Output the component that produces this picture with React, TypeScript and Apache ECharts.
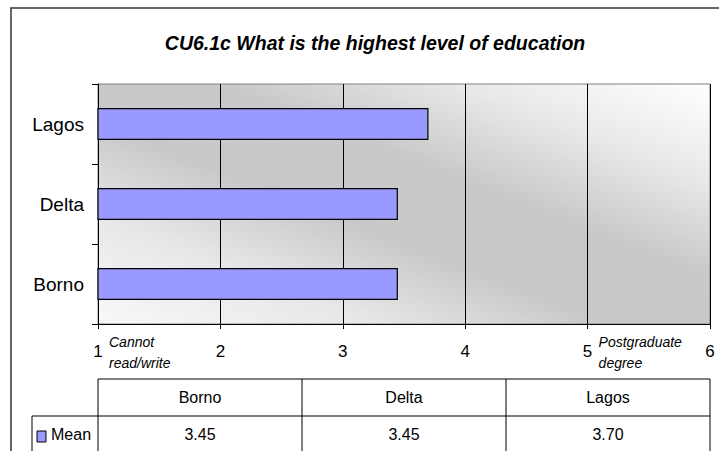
import React, { useEffect, useRef } from "react";
import * as echarts from "echarts";

const categories = ["Borno", "Delta", "Lagos"];
const meanValues = [3.45, 3.45, 3.7];
const seriesName = "Mean";
const axisMin = 1;
const axisMax = 6;
const axisStep = 1;
const scaleNotes = [
  { value: 1, text: "Cannot\nread/write" },
  { value: 5, text: "Postgraduate\ndegree" },
];
const titleText = "CU6.1c What is the highest level of education";

const FONT = '"Liberation Sans", Arial, sans-serif';

export default function App() {
  const ref = useRef<HTMLDivElement>(null);
  useEffect(() => {
    if (!ref.current) return;
    const chart = echarts.init(ref.current, null, { renderer: "svg" });
    const H = 451;
    const gridLeft = 98,
      gridRight = 9,
      gridTop = 84,
      gridBottom = 127;
    chart.setOption({
      animation: false,
      backgroundColor: "#ffffff",
      title: {
        text: titleText,
        left: 370,
        textAlign: "center",
        top: 28,
        textStyle: {
          fontFamily: FONT,
          fontSize: 19.5,
          fontWeight: "bold",
          fontStyle: "italic",
          color: "#000",
        },
      },
      grid: {
        left: gridLeft,
        right: gridRight,
        top: gridTop,
        bottom: gridBottom,
        show: true,
        borderColor: "#808080",
        borderWidth: 1,
        backgroundColor: {
          type: "linear",
          x: 0,
          y: 1,
          x2: 1,
          y2: 0,
          colorStops: [
            { offset: 0, color: "#f8f8f8" },
            { offset: 0.22, color: "#e8e8e8" },
            { offset: 0.42, color: "#c8c8c8" },
            { offset: 0.6, color: "#c9c9c9" },
            { offset: 0.8, color: "#e9e9e9" },
            { offset: 1, color: "#ffffff" },
          ],
        },
      },
      xAxis: {
        type: "value",
        min: axisMin,
        max: axisMax,
        interval: axisStep,
        axisLine: { show: true, lineStyle: { color: "#000" } },
        axisTick: { show: true, length: 5, lineStyle: { color: "#000" } },
        axisLabel: { fontFamily: FONT, fontSize: 17, color: "#000", margin: 19 },
        splitLine: { show: true, lineStyle: { color: "#000", width: 1 } },
      },
      yAxis: {
        type: "category",
        data: categories,
        axisLine: { show: true, lineStyle: { color: "#000" } },
        axisTick: { show: true, length: 6, lineStyle: { color: "#000" } },
        axisLabel: { fontFamily: FONT, fontSize: 19, color: "#000", margin: 14 },
      },
      series: [
        {
          name: seriesName,
          type: "bar",
          data: meanValues,
          barWidth: 32,
          itemStyle: { color: "#9999ff", borderColor: "#000", borderWidth: 1.2 },
        },
      ],
    });

    const px = (v: number) => chart.convertToPixel({ xAxisIndex: 0 }, v) as number;
    const left = px(axisMin);
    const right = px(axisMax);
    const axisY = H - gridBottom;
    const colW = (right - left) / categories.length;
    const tTop = 379;
    const rowH = 37;
    const rowLeft = 32;
    const els: any[] = [];
    els.push({
      type: "rect",
      silent: true,
      shape: { x: 11, y: 8, width: 800, height: 600 },
      style: { fill: "none", stroke: "#333", lineWidth: 1.5 },
    });
    scaleNotes.forEach((n) => {
      els.push({
        type: "text",
        x: px(n.value) + 11,
        y: axisY + 7,
        style: {
          text: n.text,
          fontFamily: FONT,
          fontStyle: "italic",
          fontSize: 14,
          lineHeight: 21,
          fill: "#000",
          align: "left",
          verticalAlign: "top",
        },
      });
    });
    const line = (x1: number, y1: number, x2: number, y2: number) =>
      els.push({
        type: "line",
        shape: { x1, y1, x2, y2 },
        style: { stroke: "#000", lineWidth: 1 },
      });
    line(left, tTop, right, tTop);
    line(rowLeft, tTop + rowH, right, tTop + rowH);
    line(rowLeft, tTop + 2 * rowH, right, tTop + 2 * rowH);
    for (let i = 0; i <= categories.length; i++) {
      line(left + i * colW, tTop, left + i * colW, tTop + 2 * rowH);
    }
    line(rowLeft, tTop + rowH, rowLeft, tTop + 2 * rowH);
    categories.forEach((c, i) => {
      els.push({
        type: "text",
        x: left + (i + 0.5) * colW,
        y: tTop + rowH / 2,
        style: {
          text: c,
          fontFamily: FONT,
          fontSize: 16,
          fill: "#000",
          align: "center",
          verticalAlign: "middle",
        },
      });
      els.push({
        type: "text",
        x: left + (i + 0.5) * colW,
        y: tTop + rowH * 1.5,
        style: {
          text: meanValues[i].toFixed(2),
          fontFamily: FONT,
          fontSize: 16,
          fill: "#000",
          align: "center",
          verticalAlign: "middle",
        },
      });
    });
    els.push({
      type: "rect",
      shape: { x: 37, y: tTop + rowH + 15, width: 9, height: 11 },
      style: { fill: "#9999ff", stroke: "#000", lineWidth: 1 },
    });
    els.push({
      type: "text",
      x: 51,
      y: tTop + rowH * 1.5,
      style: {
        text: seriesName,
        fontFamily: FONT,
        fontSize: 16,
        fill: "#000",
        align: "left",
        verticalAlign: "middle",
      },
    });
    chart.setOption({ graphic: els });
    return () => chart.dispose();
  }, []);
  return (
    <div
      ref={ref}
      style={{ position: "absolute", left: 0, top: 0, width: 719, height: 451 }}
    />
  );
}
